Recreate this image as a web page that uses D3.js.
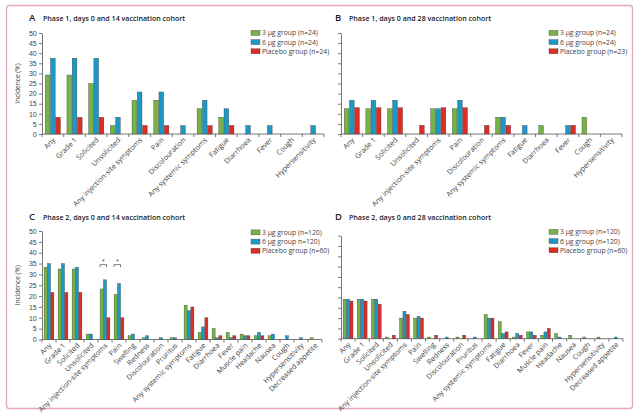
<!DOCTYPE html>
<html>
<head>
<meta charset="utf-8">
<script src="https://cdn.jsdelivr.net/npm/d3@7"></script>
<style>
  body { margin: 0; background: #fff; }
  svg { display: block; font-family: "Open Sans", "Noto Sans", sans-serif; }
  .tick text { fill: #444; }
</style>
</head>
<body>
<svg width="641" height="417"></svg>
<script>
// categories
const catsPhase1 = ['Any', 'Grade 1', 'Solicited', 'Unsolicited', 'Any injection-site symptoms', 'Pain',
  'Discolouration', 'Any systemic symptoms', 'Fatigue', 'Diarrhoea', 'Fever', 'Cough', 'Hypersensitivity']
const catsPhase2 = ['Any', 'Grade 1', 'Solicited', 'Unsolicited', 'Any injection-site symptoms', 'Pain',
  'Swelling', 'Redness', 'Discolouration', 'Pruritus', 'Any systemic symptoms', 'Fatigue', 'Diarrhoea',
  'Fever', 'Muscle pain', 'Headache', 'Nausea', 'Cough', 'Hypersensitivity', 'Decreased appetite']

// A: phase 1, days 0 and 14
const a3ug = [29.2, 29.2, 25.0, 4.2, 16.7, 16.7, 0, 12.5, 8.3, 0, 0, 0, 0]
const a6ug = [37.5, 37.5, 37.5, 8.3, 20.8, 20.8, 4.2, 16.7, 12.5, 4.2, 4.2, 0, 4.2]
const aPlacebo = [8.3, 8.3, 8.3, 0, 4.2, 4.2, 0, 4.2, 4.2, 0, 0, 0, 0]
// B: phase 1, days 0 and 28
const b3ug = [12.5, 12.5, 12.5, 0, 12.5, 12.5, 0, 8.3, 0, 4.2, 0, 8.3, 0]
const b6ug = [16.7, 16.7, 16.7, 0, 12.5, 16.7, 0, 8.3, 4.2, 0, 4.2, 0, 0]
const bPlacebo = [13.0, 13.0, 13.0, 4.3, 13.0, 13.0, 4.3, 4.3, 0, 0, 4.3, 0, 0]
// C: phase 2, days 0 and 14
const c3ug = [33.3, 32.5, 32.5, 2.5, 23.3, 20.8, 1.7, 0.8, 0, 0.8, 15.8, 3.3, 5.0, 3.3, 2.5, 1.7, 1.7, 0, 0, 0.8]
const c6ug = [35.0, 35.0, 33.3, 2.5, 27.5, 25.8, 2.5, 1.7, 0.8, 0.8, 13.3, 5.8, 0.8, 0.8, 1.7, 3.3, 2.5, 1.7, 0.8, 0]
const cPlacebo = [21.7, 21.7, 21.7, 0, 10.0, 10.0, 0, 0, 0, 0, 15.0, 10.0, 1.7, 1.7, 1.7, 1.7, 0, 0, 0, 0]
// D: phase 2, days 0 and 28
const d3ug = [19.2, 19.2, 19.2, 0.8, 10.0, 10.0, 0.8, 0, 0.8, 0, 11.7, 8.3, 0.8, 3.3, 1.7, 2.5, 1.7, 0.8, 0.8, 0]
const d6ug = [19.2, 19.2, 19.2, 0, 13.3, 10.8, 0, 0.8, 0, 0.8, 10.0, 2.5, 2.5, 3.3, 3.3, 0.8, 0, 0, 0, 0.8]
const dPlacebo = [18.3, 18.3, 16.7, 1.7, 11.7, 10.0, 1.7, 0, 1.7, 0, 10.0, 3.3, 1.7, 1.7, 5.0, 0, 0, 0, 0, 0]

const yTicks = [0, 5, 10, 15, 20, 25, 30, 35, 40, 45, 50]
const groups = ['3ug', '6ug', 'placebo']
const colors = { '3ug': '#76b245', '6ug': '#1b98c6', 'placebo': '#de2c27' }

const svg = d3.select('svg')

// pink frame
svg.append('rect')
  .attr('x', 6.5).attr('y', 5.5).attr('width', 626).attr('height', 403)
  .attr('rx', 3)
  .attr('fill', 'none').attr('stroke', '#e7a5be').attr('stroke-width', 1.3)

function panel(opts) {
  const { letter, title, cats, series, legend, x0, x1, y0, y1, showYLabels, ty } = opts
  const g = svg.append('g')

  const x = d3.scaleBand().domain(cats).range([x0, x1]).paddingInner(0.3).paddingOuter(0.15)
  const xs = d3.scaleBand().domain(groups).range([0, x.bandwidth()]).paddingInner(0.1)
  const y = d3.scaleLinear().domain([0, 50]).range([y0, y1])

  // title
  g.append('text').attr('x', opts.lx).attr('y', ty)
    .attr('font-size', 9.5).attr('font-weight', 600).attr('fill', '#222').text(letter)
  g.append('text').attr('x', opts.lx + 14).attr('y', ty)
    .attr('font-size', 7.1).attr('font-weight', 600).attr('fill', '#222').text(title)

  // y axis
  const ya = g.append('g').attr('transform', `translate(${x0},0)`)
    .call(d3.axisLeft(y).tickValues(yTicks).tickSize(3).tickSizeOuter(0)
      .tickFormat(showYLabels ? d3.format('d') : ''))
  ya.selectAll('text').attr('font-size', 7).attr('dx', '0.1em')
  ya.selectAll('line, path').attr('stroke', '#555').attr('stroke-width', 0.8)

  if (showYLabels) {
    g.append('text')
      .attr('transform', `translate(${x0 - 22},${(y0 + y1) / 2}) rotate(-90)`)
      .attr('text-anchor', 'middle').attr('font-size', 6.6).attr('fill', '#444')
      .text('Incidence (%)')
  }

  // x axis: ticks sit between categories
  const xa = g.append('g').attr('transform', `translate(0,${y0})`)
  xa.append('line').attr('x1', x0).attr('x2', x1).attr('stroke', '#555').attr('stroke-width', 0.8)
  const bounds = d3.range(cats.length + 1).map(i => x0 + i * (x1 - x0) / cats.length)
  xa.selectAll('.tk').data(bounds).enter().append('line')
    .attr('x1', d => d).attr('x2', d => d).attr('y1', 0).attr('y2', 3)
    .attr('stroke', '#555').attr('stroke-width', 0.8)
  xa.selectAll('.lbl').data(cats).enter().append('text')
    .attr('transform', d => `translate(${x(d) + x.bandwidth() / 2 + 3},${6.5}) rotate(-45)`)
    .attr('text-anchor', 'end').attr('font-size', 7.2).attr('fill', '#444')
    .text(d => d)

  // bars
  cats.forEach((c, i) => {
    groups.forEach((k, j) => {
      const v = series[j][i]
      if (!v) return
      g.append('rect')
        .attr('x', x(c) + xs(k)).attr('width', xs.bandwidth())
        .attr('y', y(v)).attr('height', y0 - y(v))
        .attr('fill', colors[k]).attr('stroke', '#3b3b3b').attr('stroke-width', 0.35)
    })
  })

  // legend
  legend.forEach((t, j) => {
    const ly = opts.legY + j * 9.2
    g.append('rect').attr('x', opts.legX).attr('y', ly - 3.6).attr('width', 9).attr('height', 5)
      .attr('fill', colors[groups[j]]).attr('stroke', '#3b3b3b').attr('stroke-width', 0.35)
    g.append('text').attr('x', opts.legX + 11).attr('y', ly + 1.3)
      .attr('font-size', 6.8).attr('fill', '#444').text(t)
  })

  return { g, x, xs, y }
}

panel({
  letter: 'A', title: 'Phase 1, days 0 and 14 vaccination cohort', lx: 29, ty: 21,
  cats: catsPhase1, series: [a3ug, a6ug, aPlacebo],
  legend: ['3 μg group (n=24)', '6 μg group (n=24)', 'Placebo group (n=24)'],
  x0: 42, x1: 324, y0: 134, y1: 33, showYLabels: true, legX: 251, legY: 34
})
panel({
  letter: 'B', title: 'Phase 1, days 0 and 28 vaccination cohort', lx: 335, ty: 21,
  cats: catsPhase1, series: [b3ug, b6ug, bPlacebo],
  legend: ['3 μg group (n=24)', '6 μg group (n=24)', 'Placebo group (n=23)'],
  x0: 341, x1: 622, y0: 134, y1: 33, showYLabels: false, legX: 549, legY: 34
})
const pc = panel({
  letter: 'C', title: 'Phase 2, days 0 and 14 vaccination cohort', lx: 29, ty: 220,
  cats: catsPhase2, series: [c3ug, c6ug, cPlacebo],
  legend: ['3 μg group (n=120)', '6 μg group n=120)', 'Placebo group (n=60)'],
  x0: 42, x1: 322, y0: 339.5, y1: 231, showYLabels: true, legX: 251, legY: 233.5
})
panel({
  letter: 'D', title: 'Phase 2, days 0 and 28 vaccination cohort', lx: 335, ty: 220,
  cats: catsPhase2, series: [d3ug, d6ug, dPlacebo],
  legend: ['3 μg group (n=120)', '6 μg group (n=120)', 'Placebo group (n=60)'],
  x0: 341, x1: 623, y0: 338.7, y1: 235.7, showYLabels: false, legX: 549, legY: 233
})

// significance brackets in C (3 μg vs 6 μg)
const sigCats = ['Any injection-site symptoms', 'Pain']
const sigLevel = 34.5
sigCats.forEach(c => {
  const xa = pc.x(c) + pc.xs('3ug')
  const xb = pc.x(c) + pc.xs('6ug') + pc.xs.bandwidth()
  const yy = pc.y(sigLevel)
  pc.g.append('path')
    .attr('d', `M${xa},${yy + 2.5}V${yy}H${xb}V${yy + 2.5}`)
    .attr('fill', 'none').attr('stroke', '#444').attr('stroke-width', 0.7)
  pc.g.append('text').attr('x', (xa + xb) / 2).attr('y', yy - 1.5)
    .attr('text-anchor', 'middle').attr('font-size', 6).attr('fill', '#444').text('*')
})
</script>
</body>
</html>
